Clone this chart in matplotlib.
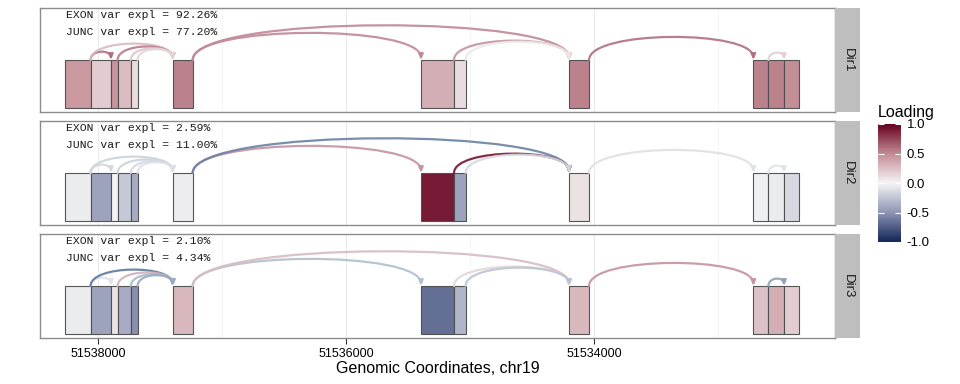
import numpy as np
import matplotlib
matplotlib.use("Agg")
import matplotlib.pyplot as plt
from matplotlib.path import Path
from matplotlib.patches import FancyArrowPatch, Rectangle
from matplotlib.colors import LinearSegmentedColormap, Normalize

plt.rcParams['font.family'] = ['Liberation Sans', 'DejaVu Sans']

# exon bins (genomic start, end), chr19, minus strand
exon_start = [51538059, 51537895, 51537841, 51537734, 51537680, 51537236,
              51535129, 51535035, 51534040, 51532594, 51532468, 51532344]
exon_end = [51538266, 51538059, 51537895, 51537841, 51537734, 51537398,
            51535395, 51535129, 51534202, 51532715, 51532594, 51532468]

# junctions: donor -> acceptor
junc_from = [51538059, 51538059, 51537841, 51537734, 51537680, 51537236,
             51537236, 51535129, 51535035, 51534040, 51532594]
junc_to = [51537895, 51537398, 51537398, 51537398, 51537398, 51535395,
           51534202, 51534202, 51534202, 51532715, 51532468]

directions = ['Dir1', 'Dir2', 'Dir3']
exon_var = [92.26, 2.59, 2.10]
junc_var = [77.20, 11.00, 4.34]

exon_loading = [
    [0.45, 0.20, 0.48, 0.28, 0.12, 0.55, 0.35, 0.12, 0.55, 0.55, 0.55, 0.50],
    [-0.05, -0.45, 0.02, -0.25, -0.40, -0.04, 0.95, -0.45, 0.10, -0.03, -0.05, -0.15],
    [-0.05, -0.45, 0.10, -0.40, -0.55, 0.30, -0.70, -0.35, 0.30, 0.25, 0.35, 0.20],
]
junc_loading = [
    [0.60, 0.25, 0.55, 0.20, 0.12, 0.50, 0.50, 0.45, 0.03, 0.60, 0.15],
    [-0.15, -0.20, -0.20, -0.15, -0.10, 0.45, -0.70, 0.95, -0.15, -0.10, -0.08],
    [-0.08, -0.75, 0.30, -0.40, -0.50, -0.35, 0.25, 0.12, -0.30, 0.45, -0.55],
]

x_ticks = [51538000, 51536000, 51534000]
x_minor = [51537000, 51535000, 51533000]
x_range = (51538467, 51532057)

cmap = LinearSegmentedColormap.from_list(
    'loading',
    [(0.0, '#0F2557'), (0.25, '#8E94B4'), (0.5, '#F5F5F5'),
     (0.75, '#C28A93'), (1.0, '#67001F')])
line_cmap = LinearSegmentedColormap.from_list(
    'loading_line',
    [(0.0, '#244775'), (0.25, '#9AAAC0'), (0.5, '#EEEEEE'),
     (0.75, '#C08A98'), (1.0, '#6E0A25')])
norm = Normalize(-1, 1)

fig = plt.figure(figsize=(9.6, 3.84), dpi=100)
W, H = 960, 384
left, right = 40 / W, 835 / W
tops = [8, 121, 234]
ph = 104

ex_bot, ex_top = 0.04, 0.5

for p, name in enumerate(directions):
    ax = fig.add_axes([left, 1 - (tops[p] + ph) / H, right - left, ph / H])
    ax.set_xlim(*x_range)
    ax.set_ylim(0, 1)
    for g in x_ticks:
        ax.axvline(g, color='#EBEBEB', lw=0.8, zorder=0)
    for g in x_minor:
        ax.axvline(g, color='#F4F4F4', lw=0.6, zorder=0)

    for s, e, v in zip(exon_start, exon_end, exon_loading[p]):
        ax.add_patch(Rectangle((s, ex_bot), e - s, ex_top - ex_bot,
                               facecolor=cmap(norm(v)), edgecolor='#4D4D4D',
                               lw=0.8, alpha=0.95, zorder=2))

    for a, b, v in zip(junc_from, junc_to, junc_loading[p]):
        peak = 0.006 * np.sqrt(abs(a - b))
        c = ex_top + peak / 0.75
        path = Path([(a, ex_top), (a, c), (b, c), (b, ex_top)],
                    [Path.MOVETO, Path.CURVE4, Path.CURVE4, Path.CURVE4])
        arr = FancyArrowPatch(path=path, arrowstyle='-|>,head_length=0.5,head_width=0.22',
                              mutation_scale=6, color=line_cmap(norm(v)), lw=1.6,
                              shrinkA=0, shrinkB=0, alpha=0.9, zorder=3)
        ax.add_patch(arr)

    ax.text(0.033, 0.93, f'EXON var expl = {exon_var[p]:.2f}%', transform=ax.transAxes,
            family='Liberation Mono', fontsize=8.2, va='center', ha='left', color='#1A1A1A')
    ax.text(0.033, 0.765, f'JUNC var expl = {junc_var[p]:.2f}%', transform=ax.transAxes,
            family='Liberation Mono', fontsize=8.2, va='center', ha='left', color='#1A1A1A')

    ax.set_yticks([])
    for sp in ax.spines.values():
        sp.set_color('#8C8C8C')
        sp.set_linewidth(1.0)
    if p < 2:
        ax.set_xticks([])
    else:
        ax.set_xticks(x_ticks)
        ax.set_xticklabels([str(t) for t in x_ticks])
        ax.tick_params(axis='x', length=4, color='#333333', labelsize=9, pad=3)
        ax.set_xlabel('Genomic Coordinates, chr19', fontsize=11.5, labelpad=1)

    sax = fig.add_axes([right, 1 - (tops[p] + ph) / H, 25 / W, ph / H])
    sax.set_facecolor('#BEBEBE')
    sax.set_xticks([])
    sax.set_yticks([])
    for sp in sax.spines.values():
        sp.set_visible(False)
    sax.text(0.5, 0.5, name, rotation=270, ha='center', va='center',
             fontsize=9.5, color='#1A1A1A', transform=sax.transAxes)

cax = fig.add_axes([878 / W, 1 - 242 / H, 23 / W, 118 / H])
sm = matplotlib.cm.ScalarMappable(norm=norm, cmap=cmap)
cb = fig.colorbar(sm, cax=cax, ticks=[-1, -0.5, 0, 0.5, 1])
cb.outline.set_visible(False)
cb.ax.set_yticklabels(['-1.0', '-0.5', '0.0', '0.5', '1.0'])
cb.ax.tick_params(direction='in', color='white', length=4, width=0.8,
                  left=True, right=True, labelsize=9.5, pad=4)
fig.text(878 / W, 1 - 113 / H, 'Loading', fontsize=11.5, va='center', ha='left')

fig.savefig('out.png', dpi=100)
